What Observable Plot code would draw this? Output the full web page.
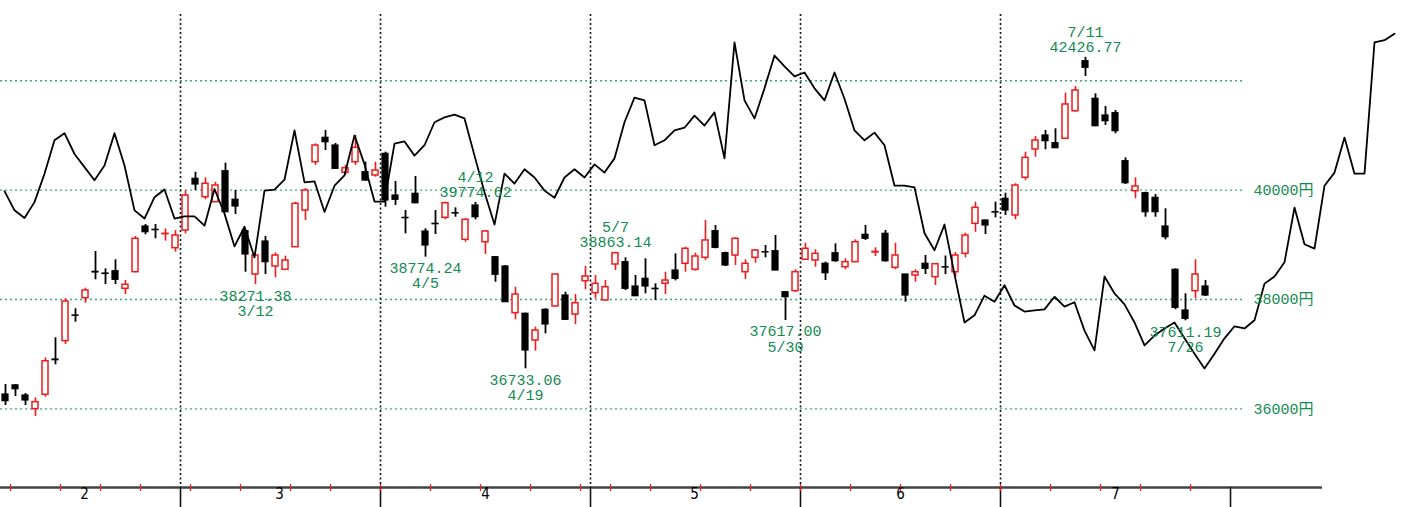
<!DOCTYPE html>
<html>
<head>
<meta charset="utf-8">
<script src="https://cdn.jsdelivr.net/npm/d3@7"></script>
<script src="https://cdn.jsdelivr.net/npm/@observablehq/plot@0.6"></script>
<style>
  html, body { margin: 0; padding: 0; background: #ffffff; }
  #chart svg { display: block; }
</style>
</head>
<body>
<div id="chart"></div>
<script>
// Daily candles, trading day index 0 = 2/2 ... 120 = 7/30
const opens = [36263,36430,36245,35995,36258,36903,37238,37708,38024,38506,38475,38517,38196,38499,39334,39274,39194,38938,39261,40206,39870,39779,40345,39823,39249,38457,39060,38603,38543,38956,39627,40510,40956,40815,40316,40510,40327,40267,40663,39901,39493,39932,39243,39384,39493,39578,39091,39718,39047,38773,38603,37750,37739,37251,37812,37872,38073,37726,38335,38115,37982,38640,38682,38238,38378,38196,38287,38530,38653,38543,38762,39249,38846,38804,38499,38762,38865,38883,38133,38152,38726,38713,38653,38846,38590,38682,39183,38860,39201,38579,38457,38439,38653,38408,38590,38499,38835,39384,39444,39596,39841,39536,40225,40742,40998,40857,40938,41442,42356,41669,41364,41406,40528,39980,39943,39859,39334,38543,37799,38152,38238];
const highs = [36446,36440,36282,36203,36934,37300,38013,37830,38207,38877,38561,38726,38347,39152,39371,39371,39292,39261,39993,40327,40225,40144,40492,39993,39250,38810,39152,38854,38792,39779,40029,40846,41089,40852,40450,40998,40510,40510,40693,40157,39627,40248,39292,39627,39779,39676,39475,39774.62,39261,38780,38622,38225,37750,37494,37830,38460,38133,38091,38603,38439,38347,38863.14,38762,38439,38744,38287,38499,38835,38956,38846,39444,39353,38865,39128,38726,38909,38987,39170,38140,38543,39029,38909,38682,39018,38744,39091,39353,38945,39261,39029,38460,38543,38804,38650,38795,38859,39212,39779,39450,39779,39943,40115,40693,40980,41089,41120,41771,41894,42426.77,41760,41528,41455,40590,40225,39961,39919,39658,38561,38104,38726,38347];
const lows = [36062,36227,36062,35861,36214,36806,37177,37585,37932,38360,38274,38274,38091,38490,39183,39110,39066,38865,39201,39993,39823,39770,39590,39554,38499,38271.38,38457,38397,38530,38950,39444,40450,40724,40380,40267,40450,40163,40236,39687,39718,39201,39750,38774.24,39188,39457,39504,39047,39457,38823,38316,37950,37629,36733.06,37055,37373,37870,37616,37540,38177,38013,37969,38530,38165,38055,38104,37982,38091,38340,38499,38517,38713,38927,38603,38622,38366,38664,38762,38525,37617.00,38133,38713,38590,38347,38682,38543,38680,39079,38786,38682,38543,37951,38316,38457,38256,38457,38408,38762,39230,39188,39493,39536,39457,40175,40601,40737,40760,40930,41424,42076,41160,41181,41029,40102,39841,39504,39504,39091,37812,37611.19,38013,38055];
const closes = [36141,36360,36154,36123,36872,36890,37963,37702,38165,38494,38466,38360,38269,39110,39230,39267,39201,39170,39901,40102,40115,40084,39596,39700,38823,38804,38682,38804,38713,39749,39993,40815,40875,40389,40400,40773,40175,40358,39810,39823,39486,39760,38987,39376,39760,39572,39457,39504,39243,38452,37951,38091,37068,37433,37543,38457,37629,37932,38420,38287,38225,38846,38196,38060,38238,38188,38347,38378,38927,38786,39079,38945,38622,39110,38653,38896,38860,38530,38042,38499,38927,38835,38481,38700,38682,39047,39110,38870,38700,38804,38073,38499,38561,38645,38585,38804,39170,39676,39353,39590,39627,40084,40590,40907,40894,40766,41565,41821,42236,41168,41259,41077,40126,40066,39596,39596,39139,37848,37647,38457,38073];

// Comparison line (one point per day index, runs past the candles)
const lineValues = [39980,39630,39490,39780,40300,40910,41040,40660,40420,40180,
  40450,41040,40450,39630,39480,39870,40010,39480,39520,39520,
  39350,40020,39570,38970,39330,38770,39990,40010,40190,41090,
  40140,40160,39600,40080,40270,41000,40470,39790,39790,40850,
  40890,40630,40820,41240,41330,41380,41310,40630,39960,39370,
  40300,40120,40380,40230,39990,39860,40230,40380,40230,40470,
  40320,40580,41240,41690,41640,40820,40910,41090,41140,41360,
  41180,41420,40580,42700,41640,41310,41860,42460,42260,42080,
  42150,41860,41640,42150,41670,41090,40910,41050,40820,40080,
  40080,40050,39210,38900,39370,38460,37580,37710,38070,37960,
  38260,37890,37780,37800,37820,38050,37870,37950,37430,37070,
  38420,38110,37910,37580,37160,37340,37470,37580,37290,37010,
  36740,37010,37290,37510,37470,37620,38290,38420,38680,39680,
  39010,38930,40080,40320,40960,40300,40300,42700,42740,42860];

// Time axis
const monthBoundaries = [17.5, 37.5, 58.5, 79.5, 99.5];
const monthEnd = 122.5;
const monthLabelPos = [7.9, 27.4, 48, 68.9, 89.5, 111];
const monthLabels = ["2", "3", "4", "5", "6", "7"];
const weekStarts = [1,6,10,14,19,24,29,33,38,43,48,53,58,61,65,70,75,80,85,90,95,100,105,110,114,119];
const axisEndIndex = 131.7;

// Price axis
const gridValues = [36000, 38000, 40000, 42000];
const priceTicks = [36000, 38000, 40000];
const yDomain = [34563, 43466];
const xDomain = [-0.5, 124];

// Annotations of highs and lows
const annIdx = [25, 42, 47, 52, 61, 78, 108, 118];
const annDate = ["3/12", "4/5", "4/12", "4/19", "5/7", "5/30", "7/11", "7/26"];
const annValue = [38271.38, 38774.24, 39774.62, 36733.06, 38863.14, 37617.00, 42426.77, 37611.19];
const annKind = ["low", "low", "high", "low", "high", "low", "high", "low"];

const RED = "#f01a1a";
const GREEN = "#138a52";
const GRID = "#3aa87c";
const MONO = "'Liberation Mono', 'DejaVu Sans Mono', 'Noto Sans CJK JP', monospace";

const candles = opens.map((o, i) => ({i, open: o, high: highs[i], low: lows[i], close: closes[i]}));
const up = candles.filter(d => d.close >= d.open);
const down = candles.filter(d => d.close < d.open);
const lineData = lineValues.map((v, k) => ({k, v}));
const ann = annIdx.map((i, j) => ({i, date: annDate[j], value: annValue[j], kind: annKind[j]}));
const annLow = ann.filter(d => d.kind === "low");
const annHigh = ann.filter(d => d.kind === "high");
const hw = 0.3;

const chart = Plot.plot({
  width: 1425,
  height: 507,
  marginLeft: 0,
  marginRight: 180,
  marginTop: 0,
  marginBottom: 20,
  x: {domain: xDomain, axis: null},
  y: {domain: yDomain, axis: null},
  style: {background: "#ffffff", color: "black", fontFamily: MONO},
  marks: [
    Plot.ruleY(gridValues, {y: d => d, stroke: GRID, strokeWidth: 1.4, strokeDasharray: "2,3"}),
    Plot.ruleX(monthBoundaries, {x: d => d, stroke: "#111", strokeWidth: 1.6, strokeDasharray: "2,2.5", insetTop: 14}),
    Plot.ruleY([yDomain[0]], {y: d => d, x1: xDomain[0], x2: axisEndIndex, stroke: "#444", strokeWidth: 2.5}),
    Plot.ruleX([...monthBoundaries, monthEnd], {x: d => d, stroke: "#111", strokeWidth: 1.6, insetTop: 487, insetBottom: -20}),
    Plot.ruleX(weekStarts, {x: d => d - 0.5, stroke: RED, strokeWidth: 1.2, insetTop: 484, insetBottom: -4}),
    Plot.ruleX(down, {x: "i", y1: "low", y2: "high", stroke: "black", strokeWidth: 1.8}),
    Plot.ruleX(up, {x: "i", y1: "low", y2: "high", stroke: RED, strokeWidth: 1.6}),
    Plot.rect(down, {x1: d => d.i - hw, x2: d => d.i + hw, y1: "open", y2: "close", fill: "black", stroke: "black", strokeWidth: 1.2}),
    Plot.rect(up, {x1: d => d.i - hw, x2: d => d.i + hw, y1: "open", y2: "close", fill: "white", stroke: RED, strokeWidth: 1.5}),
    Plot.line(lineData, {x: "k", y: "v", stroke: "black", strokeWidth: 1.8, dx: -1}),
    Plot.text(annLow, {x: "i", y: "value", text: d => d.value.toFixed(2) + "\n" + d.date, lineAnchor: "top", dy: 5, fill: GREEN, fontSize: 15, fontFamily: MONO, lineHeight: 1.02}),
    Plot.text(annHigh, {x: "i", y: "value", text: d => d.date + "\n" + d.value.toFixed(2), lineAnchor: "bottom", dy: -5, fill: GREEN, fontSize: 15, fontFamily: MONO, lineHeight: 1.02}),
    Plot.text(priceTicks, {y: d => d, text: d => d + "円", frameAnchor: "right", textAnchor: "start", dx: 8, fill: GREEN, fontSize: 15, fontFamily: MONO}),
    Plot.text(monthLabelPos, {x: d => d, text: (d, i) => monthLabels[i], frameAnchor: "bottom", dy: 11, fill: "black", fontSize: 15, fontFamily: "'DejaVu Sans Condensed', 'Liberation Sans Narrow', 'DejaVu Sans', sans-serif"})
  ]
});
document.getElementById("chart").appendChild(chart);
</script>
</body>
</html>
